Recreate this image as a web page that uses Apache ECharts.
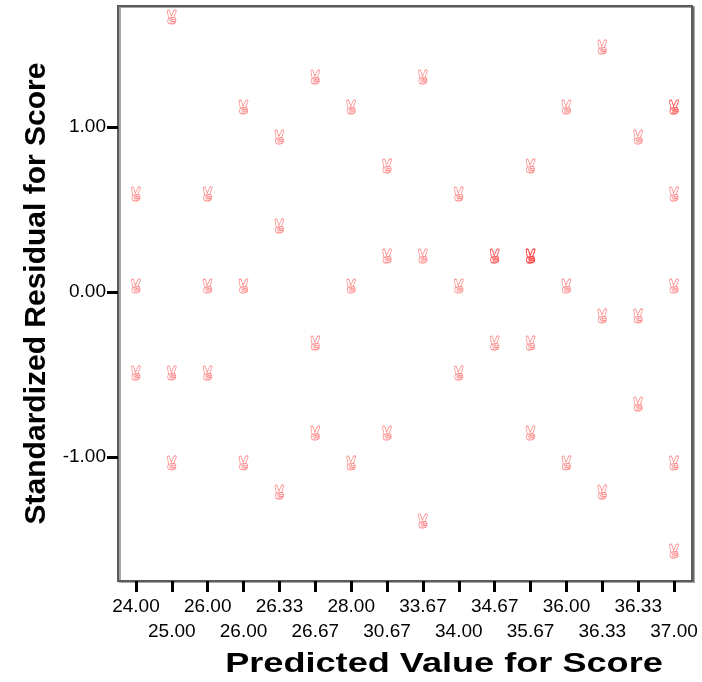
<!DOCTYPE html>
<html><head><meta charset="utf-8">
<script src="https://cdn.jsdelivr.net/npm/echarts@6/dist/echarts.min.js"></script>
<style>html,body{margin:0;padding:0;background:#fff}#c{width:702px;height:682px}</style>
</head><body><div id="c"></div>
<script>
// Predicted value categories (x axis, in order)
const predictedLabels = ['24.00','25.00','26.00','26.00','26.33','26.67','28.00','30.67','33.67','34.00','34.67','35.67','36.00','36.33','36.33','37.00'];
// Each point: category index and standardized residual
const pointColumn = [
  0,0,0,
  1,1,1,
  2,2,2,
  3,3,3,
  4,4,4,
  5,5,5,
  6,6,6,
  7,7,7,
  8,8,8,
  9,9,9,
  10,10,10,
  11,11,11,11,11,11,
  12,12,12,
  13,13,13,
  14,14,14,
  15,15,15,15,15,15
];
const pointResidual = [
  0.594, 0.036, -0.491,
  1.667, -0.491, -1.036,
  0.594, 0.036, -0.491,
  1.121, 0.036, -1.036,
  0.939, 0.400, -1.212,
  1.303, -0.309, -0.855,
  1.121, 0.036, -1.036,
  0.764, 0.218, -0.855,
  1.303, 0.218, -1.388,
  0.594, 0.036, -0.491,
  0.218, 0.218, -0.309,
  0.764, 0.218, 0.218, 0.218, -0.309, -0.855,
  1.121, 0.036, -1.036,
  1.485, -0.145, -1.212,
  0.939, -0.145, -0.679,
  1.121, 1.121, 0.594, 0.036, -1.036, -1.570
];
const yTickValues = [-1, 0, 1];

// victory-hand marker outline
const handPath = 'path://M5 27C2 26 2 20 4 17L2 3C2 0.5 5 0.5 5.5 3L8 13L12 2C13 0 16 1 15.5 3L12 15C15 16 16 22 14 25C12 28 7 28 5 27Z' +
  'M4.5 17C7 16 10 16 12 15M5 20.5C8 19.5 11 20 14.5 19.5M6 24C9 23 11 23.5 14.5 23M9 16.5L9.5 20';

const data = pointColumn.map((c, i) => [c, pointResidual[i]]);
const chart = echarts.init(document.getElementById('c'));
const axisFont = 'Liberation Sans, Arial, sans-serif';
chart.setOption({
  animation: false,
  backgroundColor: '#fff',
  grid: {left: 118, right: 10, top: 6, bottom: 101, show: true, borderColor: '#5a5a5a', borderWidth: 2, backgroundColor: '#fff',
    shadowColor: 'rgba(0,0,0,0.35)', shadowOffsetX: 2, shadowOffsetY: 1, shadowBlur: 0},
  xAxis: {
    type: 'category',
    data: predictedLabels,
    boundaryGap: true,
    axisLine: {show: false, onZero: false},
    axisTick: {show: true, alignWithLabel: true, interval: 0, length: 11, lineStyle: {color: '#000', width: 3}},
    axisLabel: {interval: 0, margin: 13, color: '#000', fontSize: 19, fontFamily: axisFont, lineHeight: 25,
      formatter: (v, i) => (i % 2 === 1 ? '\n' + v : v + '\n')},
    splitLine: {show: false}
  },
  yAxis: {
    type: 'value',
    min: -1.752, max: 1.733,
    name: 'Standardized Residual for Score',
    nameLocation: 'middle', nameRotate: 90, nameGap: 64,
    nameTextStyle: {fontSize: 30, fontWeight: 'bold', color: '#000', fontFamily: axisFont},
    axisLine: {show: false, onZero: false},
    axisTick: {show: true, length: 11, lineStyle: {color: '#000', width: 3}, customValues: yTickValues},
    axisLabel: {margin: 12, color: '#000', fontSize: 19, fontFamily: axisFont, customValues: yTickValues,
      formatter: v => v.toFixed(2)},
    splitLine: {show: false}
  },
  graphic: [{
    type: 'text', x: 444, y: 664, scaleX: 1.29,
    style: {text: 'Predicted Value for Score', x: 0, y: 0, textAlign: 'center', textVerticalAlign: 'middle',
      font: 'bold 28px Liberation Sans, Arial, sans-serif', fill: '#000'}
  }],
  series: [{
    type: 'scatter',
    data: data,
    symbol: handPath,
    symbolSize: [9, 14],
    itemStyle: {color: 'rgba(255,255,255,0)', borderColor: 'rgba(255,50,50,0.7)', borderWidth: 0.9}
  }]
});
</script></body></html>
